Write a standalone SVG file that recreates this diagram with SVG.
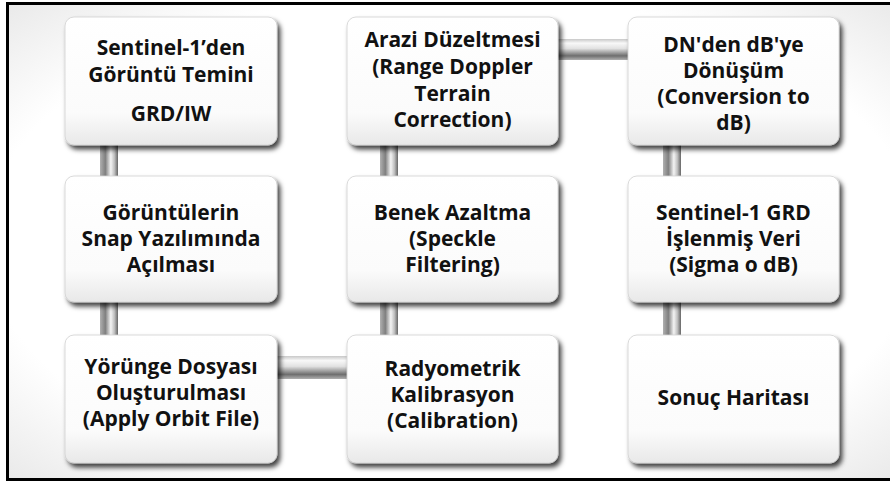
<svg xmlns="http://www.w3.org/2000/svg" width="890" height="483" viewBox="0 0 890 483">
<style>
  .box { fill: url(#boxg); stroke: #d0d0d0; stroke-width: 0.8; filter: url(#sh); }
  .t { font-family: "Open Sans", Lato, "DejaVu Sans", sans-serif; font-weight: bold; font-size: 21px; fill: #111; text-anchor: middle; }
</style>
<defs>
  <linearGradient id="boxg" x1="0" y1="0" x2="0" y2="1">
    <stop offset="0" stop-color="#ffffff"/>
    <stop offset="0.75" stop-color="#fbfbfb"/>
    <stop offset="1" stop-color="#e8e8e8"/>
  </linearGradient>
  <linearGradient id="pv" x1="0" y1="0" x2="1" y2="0">
    <stop offset="0" stop-color="#b0b0b0"/>
    <stop offset="0.3" stop-color="#808080"/>
    <stop offset="0.6" stop-color="#f4f4f4"/>
    <stop offset="0.8" stop-color="#c0c0c0"/>
    <stop offset="1" stop-color="#666666"/>
  </linearGradient>
  <linearGradient id="ph" x1="0" y1="0" x2="0" y2="1">
    <stop offset="0" stop-color="#c8c8c8"/>
    <stop offset="0.2" stop-color="#f8f8f8"/>
    <stop offset="0.45" stop-color="#e2e2e2"/>
    <stop offset="0.8" stop-color="#6e6e6e"/>
    <stop offset="1" stop-color="#b0b0b0"/>
  </linearGradient>
  <radialGradient id="bg" cx="0.5" cy="0.5" r="0.75">
    <stop offset="0.7" stop-color="#ffffff"/>
    <stop offset="1" stop-color="#e4e4e4"/>
  </radialGradient>
  <filter id="sh" x="-10%" y="-10%" width="125%" height="130%">
    <feDropShadow dx="3" dy="4" stdDeviation="2.5" flood-color="#000" flood-opacity="0.75"/>
  </filter>
</defs>

<rect x="7.5" y="3.5" width="890" height="476" fill="url(#bg)" stroke="#000" stroke-width="3"/>

<g id="connectors">
  <rect x="100" y="140" width="18" height="42" fill="url(#pv)"/>
  <rect x="100" y="298" width="18" height="42" fill="url(#pv)"/>
  <rect x="380" y="140" width="18" height="42" fill="url(#pv)"/>
  <rect x="380" y="298" width="18" height="42" fill="url(#pv)"/>
  <rect x="663" y="140" width="18" height="42" fill="url(#pv)"/>
  <rect x="663" y="298" width="18" height="42" fill="url(#pv)"/>
  <rect x="552" y="39" width="82" height="21" fill="url(#ph)"/>
  <rect x="271" y="356" width="82" height="23" fill="url(#ph)"/>
</g>

<g id="n1">
  <rect class="box" x="65" y="17" width="212" height="128" rx="9"/>
  <text class="t" x="171" y="55">Sentinel-1’den</text>
  <text class="t" x="171" y="82">Görüntü Temini</text>
  <text class="t" x="171" y="121">GRD/IW</text>
</g>
<g id="n2">
  <rect class="box" x="347" y="17" width="211" height="128" rx="9"/>
  <text class="t" x="452.5" y="47">Arazi Düzeltmesi</text>
  <text class="t" x="452.5" y="74">(Range Doppler</text>
  <text class="t" x="452.5" y="101">Terrain</text>
  <text class="t" x="452.5" y="127">Correction)</text>
</g>
<g id="n3">
  <rect class="box" x="628" y="17" width="211" height="128" rx="9"/>
  <text class="t" x="733.5" y="52">DN'den dB'ye</text>
  <text class="t" x="733.5" y="78">Dönüşüm</text>
  <text class="t" x="733.5" y="104">(Conversion to</text>
  <text class="t" x="733.5" y="130">dB)</text>
</g>
<g id="n4">
  <rect class="box" x="65" y="176" width="212" height="126" rx="9"/>
  <text class="t" x="171" y="220">Görüntülerin</text>
  <text class="t" x="171" y="246">Snap Yazılımında</text>
  <text class="t" x="171" y="272">Açılması</text>
</g>
<g id="n5">
  <rect class="box" x="347" y="176" width="211" height="126" rx="9"/>
  <text class="t" x="452.5" y="220">Benek Azaltma</text>
  <text class="t" x="452.5" y="246">(Speckle</text>
  <text class="t" x="452.5" y="272">Filtering)</text>
</g>
<g id="n6">
  <rect class="box" x="628" y="176" width="211" height="126" rx="9"/>
  <text class="t" x="733.5" y="220">Sentinel-1 GRD</text>
  <text class="t" x="733.5" y="246">İşlenmiş Veri</text>
  <text class="t" x="733.5" y="272">(Sigma o dB)</text>
</g>
<g id="n7">
  <rect class="box" x="65" y="335" width="212" height="128" rx="9"/>
  <text class="t" x="171" y="374">Yörünge Dosyası</text>
  <text class="t" x="171" y="400">Oluşturulması</text>
  <text class="t" x="171" y="426">(Apply Orbit File)</text>
</g>
<g id="n8">
  <rect class="box" x="347" y="335" width="211" height="128" rx="9"/>
  <text class="t" x="452.5" y="376">Radyometrik</text>
  <text class="t" x="452.5" y="402">Kalibrasyon</text>
  <text class="t" x="452.5" y="428">(Calibration)</text>
</g>
<g id="n9">
  <rect class="box" x="628" y="335" width="211" height="128" rx="9"/>
  <text class="t" x="733.5" y="405">Sonuç Haritası</text>
</g>
</svg>
